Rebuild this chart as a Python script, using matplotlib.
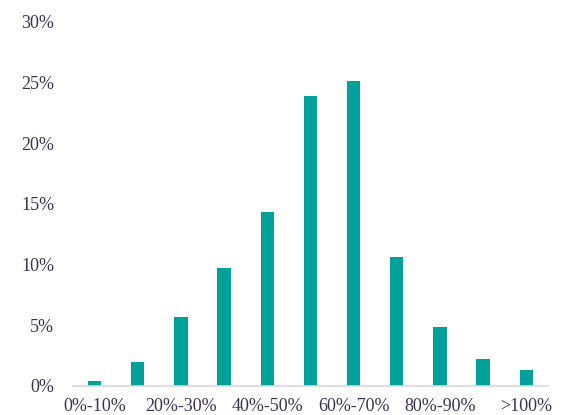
import matplotlib
matplotlib.use("Agg")
import matplotlib.pyplot as plt
import numpy as np
from matplotlib.ticker import PercentFormatter

# distribution buckets
categories = ["0%-10%", "10%-20%", "20%-30%", "30%-40%", "40%-50%", "50%-60%",
              "60%-70%", "70%-80%", "80%-90%", "90%-100%", ">100%"]
shares = [0.4, 1.95, 5.7, 9.7, 14.35, 23.9, 25.15, 10.65, 4.85, 2.25, 1.3]
y_ticks = [0, 5, 10, 15, 20, 25, 30]

text_color = "#3d3152"
bar_color = "#00a19a"

plt.rcParams["font.family"] = ["Liberation Serif", "DejaVu Serif"]

fig = plt.figure(figsize=(5.69, 4.15), dpi=100)
ax = fig.add_axes([0.128, 0.07, 0.835, 0.877])

x = np.arange(len(categories))
ax.bar(x, shares, width=0.31, color=bar_color)

ax.set_xlim(-0.5, len(categories) - 0.5)
ax.set_ylim(0, 30)
ax.set_yticks(y_ticks)
ax.yaxis.set_major_formatter(PercentFormatter(decimals=0))

# only every other category is labelled
ax.set_xticks(x[::2])
ax.set_xticklabels(categories[::2])

ax.tick_params(axis="both", length=0, labelsize=13, colors=text_color)
ax.tick_params(axis="y", pad=13.5)
ax.tick_params(axis="x", pad=8.5)

for side in ["top", "right", "left"]:
    ax.spines[side].set_visible(False)
ax.spines["bottom"].set_color("#d9d9d9")
ax.spines["bottom"].set_linewidth(1.2)

plt.savefig("out.png", dpi=100)
plt.close()
